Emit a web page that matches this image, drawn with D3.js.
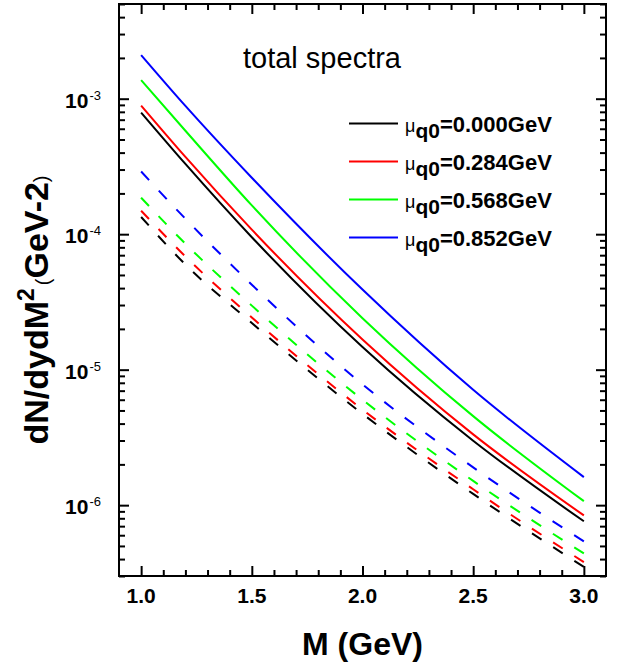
<!DOCTYPE html>
<html>
<head>
<meta charset="utf-8">
<script src="https://cdn.jsdelivr.net/npm/d3@7"></script>
<style>
  body { margin: 0; background: #fff; }
  text { font-family: Arial, "Liberation Sans", sans-serif; }
</style>
</head>
<body>
<div id="chart-area"></div>
<script>
// Data
const mass = [1.0, 1.2, 1.5, 2.0, 2.5, 3.0];
const muValues = ['0.000', '0.284', '0.568', '0.852'];

// total spectra (solid)
const solidMu0 = [7.9e-4, 3.3e-4, 9.5e-5, 1.47e-5, 2.99e-6, 7.6e-7];
const solidMu1 = [8.9e-4, 3.72e-4, 1.08e-4, 1.67e-5, 3.33e-6, 8.4e-7];
const solidMu2 = [1.37e-3, 5.8e-4, 1.63e-4, 2.4e-5, 4.54e-6, 1.07e-6];
const solidMu3 = [2.1e-3, 8.85e-4, 2.61e-4, 3.9e-5, 7.1e-6, 1.61e-6];

// dashed curves
const dashMu0 = [1.34e-4, 5.97e-5, 2.21e-5, 4.72e-6, 1.21e-6, 3.5e-7];
const dashMu1 = [1.49e-4, 6.85e-5, 2.43e-5, 5.08e-6, 1.31e-6, 3.8e-7];
const dashMu2 = [1.86e-4, 8.5e-5, 2.97e-5, 6.0e-6, 1.51e-6, 4.4e-7];
const dashMu3 = [2.9e-4, 1.3e-4, 4.24e-5, 7.8e-6, 1.9e-6, 5.4e-7];

// Tick labels
const xTickLabels = [1.0, 1.5, 2.0, 2.5, 3.0];
const yTickExponents = [-3, -4, -5, -6];

const colors = ['#000000', '#ff0000', '#00ff00', '#0000ff'];
const solidSeries = [solidMu0, solidMu1, solidMu2, solidMu3];
const dashSeries = [dashMu0, dashMu1, dashMu2, dashMu3];

// Margin
const margin = { left: 119, right: 18, top: 4, bottom: 88 };
const width = 624 - margin.left - margin.right;
const height = 664 - margin.top - margin.bottom;

const svg = d3.select('#chart-area')
    .append('svg')
    .attr('width', 624)
    .attr('height', 664);

const g = svg.append('g')
    .attr('transform', 'translate(' + margin.left + ', ' + margin.top + ')');

// Scales
const x = d3.scaleLinear().domain([0.9, 3.1]).range([0, width]);
const y = d3.scaleLog().domain([3e-7, 5e-3]).range([height, 0]);

// minor ticks
const xMinor = d3.range(10, 31).map(d => d / 10).filter(d => xTickLabels.indexOf(d) < 0);
const yMajor = yTickExponents.map(e => Math.pow(10, e));
const yMinor = [];
for (let e = -7; e <= -3; e++) {
    for (let m = 2; m <= 9; m++) {
        const v = m * Math.pow(10, e);
        if (v >= 3e-7 * 0.999 && v <= 5e-3 * 1.001) yMinor.push(v);
    }
}

function drawAxis(axis, transform) {
    const a = g.append('g')
        .attr('transform', transform)
        .call(axis);
    a.select('.domain').remove();
    a.selectAll('line').attr('stroke', '#000').attr('stroke-width', 2);
    a.selectAll('text').remove();
}

// inward ticks on all four sides
drawAxis(d3.axisBottom(x).tickValues(xTickLabels).tickSize(-10), 'translate(0,' + height + ')');
drawAxis(d3.axisBottom(x).tickValues(xMinor).tickSize(-6), 'translate(0,' + height + ')');
drawAxis(d3.axisTop(x).tickValues(xTickLabels).tickSize(-10), 'translate(0,0)');
drawAxis(d3.axisTop(x).tickValues(xMinor).tickSize(-6), 'translate(0,0)');
drawAxis(d3.axisLeft(y).tickValues(yMajor).tickSize(-10), 'translate(0,0)');
drawAxis(d3.axisLeft(y).tickValues(yMinor).tickSize(-6), 'translate(0,0)');
drawAxis(d3.axisRight(y).tickValues(yMajor).tickSize(-10), 'translate(' + width + ',0)');
drawAxis(d3.axisRight(y).tickValues(yMinor).tickSize(-6), 'translate(' + width + ',0)');

// Frame
g.append('rect')
    .attr('x', 0)
    .attr('y', 0)
    .attr('width', width)
    .attr('height', height)
    .attr('fill', 'none')
    .attr('stroke', '#000')
    .attr('stroke-width', 2);

// X tick labels
g.selectAll('.x-label')
    .data(xTickLabels)
    .enter()
    .append('text')
    .attr('class', 'x-label')
    .attr('x', d => x(d))
    .attr('y', height + 27)
    .attr('text-anchor', 'middle')
    .attr('font-size', '21px')
    .attr('font-weight', 'bold')
    .text(d => d.toFixed(1));

// Y tick labels (10^n)
const yLabels = g.selectAll('.y-label')
    .data(yTickExponents)
    .enter()
    .append('text')
    .attr('class', 'y-label')
    .attr('x', -18)
    .attr('y', d => y(Math.pow(10, d)) + 9)
    .attr('text-anchor', 'end');
yLabels.append('tspan')
    .attr('font-size', '21px')
    .attr('font-weight', 'bold')
    .text('10');
yLabels.append('tspan')
    .attr('font-size', '13px')
    .attr('dy', -8)
    .attr('dx', 1)
    .text(d => d);

// Lines
const line = d3.line()
    .x((d, i) => x(mass[i]))
    .y(d => y(d))
    .curve(d3.curveMonotoneX);

solidSeries.forEach((s, i) => {
    g.append('path')
        .attr('d', line(s))
        .attr('fill', 'none')
        .attr('stroke', colors[i])
        .attr('stroke-width', 2);
});

dashSeries.forEach((s, i) => {
    const p = g.append('path')
        .attr('d', line(s))
        .attr('fill', 'none')
        .attr('stroke', colors[i])
        .attr('stroke-width', 2);
    // same number of dashes on every curve
    const L = p.node().getTotalLength();
    const P = L / 22.45;
    p.attr('stroke-dasharray', (0.45 * P) + ',' + (0.55 * P));
});

// Title
g.append('text')
    .attr('x', 124)
    .attr('y', 64)
    .attr('font-size', '29px')
    .text('total spectra');

// Legend
muValues.forEach((m, i) => {
    const ly = 119.5 + 38 * i;
    g.append('line')
        .attr('x1', 230)
        .attr('x2', 279)
        .attr('y1', ly)
        .attr('y2', ly)
        .attr('stroke', colors[i])
        .attr('stroke-width', 2);
    const t = g.append('text')
        .attr('x', 286)
        .attr('y', ly + 8.5);
    t.append('tspan')
        .attr('font-size', '18px')
        .text('\u03bc');
    t.append('tspan')
        .attr('font-size', '21px')
        .attr('font-weight', 'bold')
        .attr('dy', 6)
        .text('q0');
    t.append('tspan')
        .attr('font-size', '22px')
        .attr('font-weight', 'bold')
        .attr('dy', -6)
        .text('=' + m + 'GeV');
});

// X Label
g.append('text')
    .attr('x', x(2.0))
    .attr('y', 651)
    .attr('text-anchor', 'middle')
    .attr('font-size', '32px')
    .attr('font-weight', 'bold')
    .text('M (GeV)');

// Y Label
const yl = svg.append('text')
    .attr('transform', 'translate(48,310) rotate(-90)')
    .attr('text-anchor', 'middle')
    .attr('font-weight', 'bold');
yl.append('tspan').attr('font-size', '34px').text('dN/dydM');
yl.append('tspan').attr('font-size', '23px').attr('dy', -14).text('2');
yl.append('tspan').attr('font-size', '20px').attr('font-weight', 'normal').attr('dy', 16).attr('dx', 3).text('(');
yl.append('tspan').attr('font-size', '34px').attr('dy', -2).text('GeV-2');
yl.append('tspan').attr('font-size', '20px').attr('font-weight', 'normal').text(')');
</script>
</body>
</html>
